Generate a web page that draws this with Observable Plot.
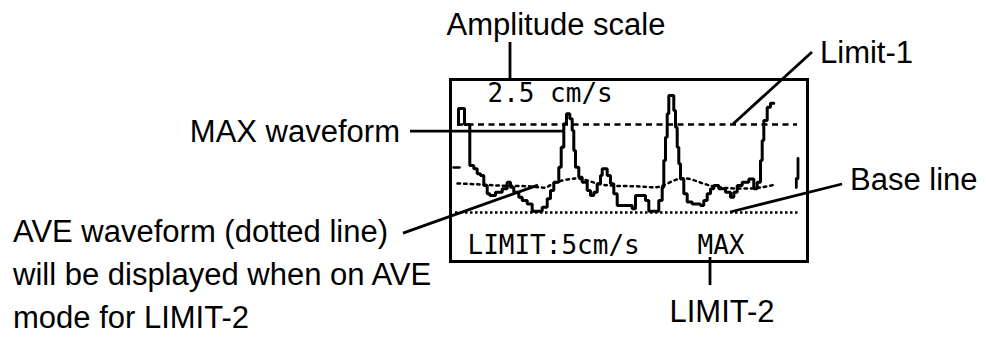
<!DOCTYPE html>
<html><head><meta charset="utf-8">
<script src="https://cdn.jsdelivr.net/npm/d3@7"></script>
<script src="https://cdn.jsdelivr.net/npm/@observablehq/plot@0.6"></script>
<style>
html,body{margin:0;padding:0;background:#fff;}
#chart{width:986px;height:343px;overflow:hidden}
</style>
</head><body><div id="chart"></div>
<script>
// MAX waveform: sample index and velocity (cm/s)
const maxT = [8, 8, 14, 19.3, 23.3, 26.7, 30, 33.3, 36.7, 39.3, 45, 51.7, 56.7, 60, 63.3, 68.3, 71.7, 76.7, 81.7, 91.7,
  96.7, 100, 103.3, 108.3, 110.7, 113.3, 116, 119.3, 121.7, 123.3, 125, 128.3, 131.7, 136.7, 140, 143.3, 146.7, 150, 151.7, 156.7,
  160, 163.3, 166.7, 181.7, 185, 195, 198.3, 208.3, 211.7, 213.3, 215, 216.7, 218.3, 223.3, 225, 226.7, 228.3, 230, 233.3, 236.7,
  241.7, 250, 253.3, 256.7, 260, 263.3, 268.3, 275, 280, 283.3, 286.7, 291.7, 298.3, 303.3, 306.7, 310, 311.7, 313.3, 316.7, 320, 323.3];
const maxV = [5.0, 5.91, 5.0, 2.67, 2.48, 2.20, 2.10, 1.53, 1.06, 0.97, 1.15, 1.35, 1.72, 1.44, 1.15, 0.87, 0.68, 0.49, 0.07, 0.30,
  0.78, 1.25, 1.72, 2.57, 3.71, 5.04, 5.61, 5.32, 4.66, 3.52, 2.57, 2.01, 1.72, 1.25, 0.97, 1.15, 1.63, 2.10, 2.48, 2.10,
  1.63, 1.06, 0.40, 0.21, 0.97, 0.68, 0.07, 0.68, 1.44, 2.95, 4.28, 5.61, 6.65, 5.80, 4.85, 3.71, 2.77, 1.91, 1.06, 0.59,
  0.49, 0.40, 0.68, 1.06, 1.35, 1.53, 1.35, 1.15, 0.87, 1.15, 1.53, 1.72, 1.91, 1.35, 1.72, 2.95, 4.09, 5.23, 5.98, 6.21, 6.21];
// start of the next sweep at the right edge
const tailT = [347.5, 347.5, 345.8, 345.8];
const tailV = [3.07, 1.93, 1.93, 1.42];
// AVE waveform (dotted)
const aveT = [7, 30, 50, 80, 95, 105, 125, 140, 160, 190, 210, 230, 250, 270, 295, 310, 325];
const aveV = [1.65, 1.59, 1.53, 1.48, 1.42, 1.70, 1.93, 1.76, 1.53, 1.48, 1.48, 1.93, 1.70, 1.42, 1.36, 1.42, 1.59];
const aveMarkT = [3, 9];
const aveMarkV = [2.56, 2.56];
// reference lines
const limit1 = 5;
const baseLevel = 0;
const limitSpan = [7, 347];
const baseSpan = [5, 349];
const timeDomain = [0, 357];
const velDomain = [-2.784, 7.557];
// display texts
const scaleLabel = "2.5 cm/s";
const limitLabel = "LIMIT:5cm/s";
const modeLabel = "MAX";
// callouts: text and the data point each one points at
const calloutText = [["Amplitude scale"], ["Limit-1"], ["Base line"], ["MAX waveform"],
  ["AVE waveform (dotted line)", "will be displayed when on AVE", "mode for LIMIT-2"], ["LIMIT-2"]];
const calloutT = [60, 283, 280, 115, 88, 260];
const calloutV = [7.557, 5, 0, 4.6, 1.53, -2.56];

// layout of callouts (pixel offsets from the target)
const calloutLayout = [
  {lead: [0, -37], text: [46, -44], anchor: "middle"},
  {lead: [79, -72], text: [87, -61], anchor: "start"},
  {lead: [112, -28], text: [120, -22], anchor: "start"},
  {lead: [-155, 0], text: [-165, 11], anchor: "end"},
  {lead: [-135, 48], text: [-525, 57], anchor: "start"},
  {lead: [0, 28], text: [12, 65], anchor: "middle"}
];

const maxData = maxT.map((t, i) => ({t, v: maxV[i]}));
const tailData = tailT.map((t, i) => ({t, v: tailV[i]}));
const aveData = aveT.map((t, i) => ({t, v: aveV[i]}));
const aveMark = aveMarkT.map((t, i) => ({t, v: aveMarkV[i]}));

const lcdFont = "DejaVu Sans Mono, monospace";

const plot = Plot.plot({
  width: 986, height: 343,
  marginLeft: 450, marginRight: 179, marginTop: 79, marginBottom: 82,
  x: {domain: timeDomain, axis: null},
  y: {domain: velDomain, axis: null},
  style: {background: "white", overflow: "visible"},
  marks: [
    Plot.ruleY([baseLevel], {x1: baseSpan[0], x2: baseSpan[1], stroke: "black", strokeWidth: 2.5, strokeDasharray: "2.5,2.5"}),
    Plot.ruleY([limit1], {x1: limitSpan[0], x2: limitSpan[1], stroke: "black", strokeWidth: 2.5, strokeDasharray: "6,4.5"}),
    Plot.line(aveData, {x: "t", y: "v", curve: "natural", stroke: "black", strokeWidth: 2.5, strokeDasharray: "2.5,4"}),
    Plot.line(aveMark, {x: "t", y: "v", stroke: "black", strokeWidth: 2.5}),
    Plot.line(maxData, {x: "t", y: "v", curve: "step-after", stroke: "black", strokeWidth: 3, strokeLinejoin: "miter"}),
    Plot.line(tailData, {x: "t", y: "v", stroke: "black", strokeWidth: 2.8}),
    Plot.text([scaleLabel], {frameAnchor: "top-left", dx: 37, dy: 4, lineAnchor: "top", textAnchor: "start",
      fontFamily: lcdFont, fontSize: 26, fill: "black", style: "letter-spacing:0.4px"}),
    Plot.text([limitLabel], {frameAnchor: "bottom-left", dx: 17, dy: -8, lineAnchor: "bottom", textAnchor: "start",
      fontFamily: lcdFont, fontSize: 26, fill: "black"}),
    Plot.text([modeLabel], {frameAnchor: "bottom-left", dx: 247, dy: -8, lineAnchor: "bottom", textAnchor: "start",
      fontFamily: lcdFont, fontSize: 26, fill: "black"}),
    Plot.frame({stroke: "black", strokeWidth: 3})
  ]
});

const sx = plot.scale("x"), sy = plot.scale("y");
const svg = d3.select(plot);
const g = svg.append("g");
calloutText.forEach((lines, i) => {
  const px = sx.apply(calloutT[i]), py = sy.apply(calloutV[i]);
  const L = calloutLayout[i];
  g.append("line").attr("x1", px).attr("y1", py)
    .attr("x2", px + L.lead[0]).attr("y2", py + L.lead[1])
    .attr("stroke", "black").attr("stroke-width", 2.8);
  const t = g.append("text").attr("font-family", "Liberation Sans, Arial, sans-serif")
    .attr("font-size", 31).attr("fill", "black").attr("text-anchor", L.anchor);
  lines.forEach((s, j) => {
    t.append("tspan").attr("x", px + L.text[0]).attr("y", py + L.text[1] + j * 43).text(s);
  });
});

document.getElementById("chart").appendChild(plot);
</script>
</body></html>
